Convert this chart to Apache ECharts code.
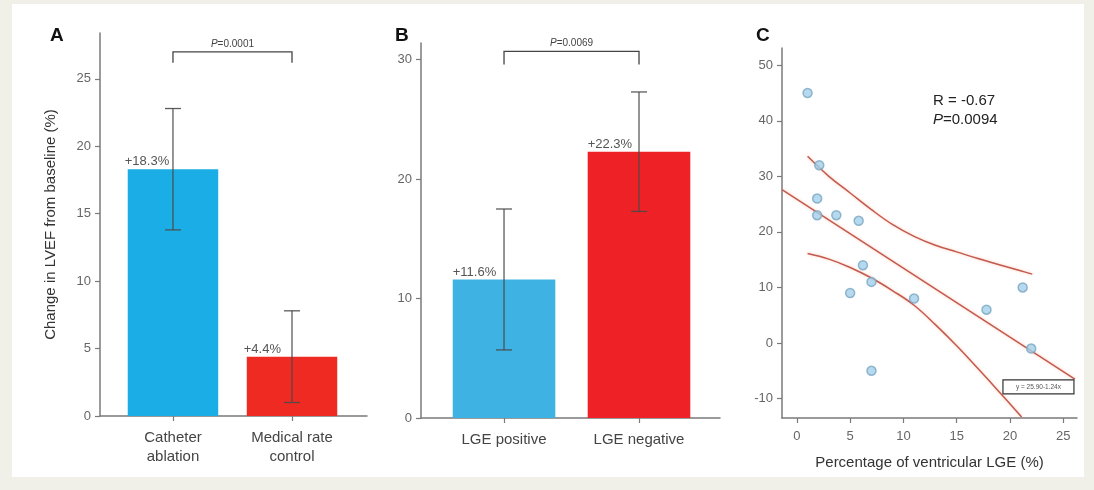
<!DOCTYPE html>
<html>
<head>
<meta charset="utf-8">
<title>LVEF change and ventricular LGE</title>
<script src="https://cdn.jsdelivr.net/npm/echarts@6/dist/echarts.min.js"></script>
<style>
  html, body { margin: 0; padding: 0; background: #f1f0e8; }
  #frame { position: absolute; left: 12px; top: 4px; width: 1072px; height: 473px; background: #ffffff; }
  #chart { position: absolute; left: 0; top: 0; width: 1094px; height: 490px; }
</style>
</head>
<body>
<div id="frame"></div>
<div id="chart"></div>
<script>
// Panel A: catheter ablation vs medical rate control
const categoriesA = ['Catheter\nablation', 'Medical rate\ncontrol'];
const meansA = [18.3, 4.4];
const errorsA = [4.5, 3.4];
const pValueA = '0.0001';

// Panel B: LGE positive vs LGE negative
const categoriesB = ['LGE positive', 'LGE negative'];
const meansB = [11.6, 22.3];
const errorsB = [5.9, 5.0];
const pValueB = '0.0069';

// Panel C: change in LVEF against percentage of ventricular LGE
const lgePercent = [1.0, 2.1, 1.9, 1.9, 3.7, 5.8, 6.2, 7.0, 5.0, 11.0, 17.8, 21.2, 22.0, 7.0];
const lvefChange = [45, 32, 26, 23, 23, 22, 14, 11, 9, 8, 6, 10, -1, -5];
const fitLine = [[-1.4, 27.6], [26.1, -6.5]];
const upperBand = [[1, 33.6], [3, 30.0], [5, 27.0], [7, 24.0], [9, 21.3], [11, 19.2], [13, 17.6], [15, 16.4], [17, 15.2], [19, 14.1], [21, 13.0], [22.1, 12.4]];
const lowerBand = [[1, 16.1], [3, 15.1], [5, 13.6], [7, 11.7], [9, 9.4], [11, 6.8], [13, 3.3], [15, -0.5], [17, -4.6], [19, -8.8], [21.1, -13.3]];
const fitEquation = 'y = 25.90-1.24x';
const rValue = '-0.67';
const pValueC = '0.0094';

const ticksA = [0, 5, 10, 15, 20, 25];
const ticksB = [0, 10, 20, 30];
const ticksCy = [-10, 0, 10, 20, 30, 40, 50];
const ticksCx = [0, 5, 10, 15, 20, 25];

const FONT = "'Liberation Sans', Arial, Helvetica, sans-serif";
const AXIS_COLOR = '#7a7a7a';
const ERR_COLOR = '#4a4a4a';
const BAR_WIDTH = 0.76;   // in category units
const CAP_HALF = 8;       // px

const barColorsA = ['#1badE5', '#ee2a22'];
const barColorsB = ['#3fb2e4', '#ee2226'];
const fitColor = '#c25a4f';

function catAxis(gridIndex, min, max, names) {
  return {
    type: 'value', gridIndex, min, max,
    axisLine: { show: true, lineStyle: { color: AXIS_COLOR, width: 1.5 } },
    axisTick: { show: true, customValues: [1, 2], length: 5, lineStyle: { color: AXIS_COLOR, width: 1.2 } },
    axisLabel: {
      customValues: [1, 2], margin: 12, color: '#444', fontFamily: FONT, fontSize: 15, lineHeight: 19,
      formatter: v => names[Math.round(v) - 1]
    },
    splitLine: { show: false }
  };
}

function valAxis(gridIndex, min, max, ticks, extra) {
  return Object.assign({
    type: 'value', gridIndex, min, max,
    axisLine: { show: true, onZero: false, lineStyle: { color: AXIS_COLOR, width: 1.5 } },
    axisTick: { show: true, customValues: ticks, length: 5, lineStyle: { color: AXIS_COLOR, width: 1.2 } },
    axisLabel: { customValues: ticks, margin: 9, color: '#666', fontFamily: FONT, fontSize: 13 },
    splitLine: { show: false }
  }, extra || {});
}

// Bars with symmetric error bars and a value label at the top-left of each bar
function barRenderer(colors, labelDx) {
  return function (params, api) {
    const x = api.value(0), v = api.value(1), e = api.value(2);
    const tl = api.coord([x - BAR_WIDTH / 2, v]);
    const br = api.coord([x + BAR_WIDTH / 2, 0]);
    const hi = api.coord([x, v + e]);
    const lo = api.coord([x, v - e]);
    const errStyle = { stroke: ERR_COLOR, lineWidth: 1.3, opacity: 0.9 };
    return {
      type: 'group',
      children: [
        { type: 'rect', shape: { x: tl[0], y: tl[1], width: br[0] - tl[0], height: br[1] - tl[1] },
          style: { fill: colors[params.dataIndex] } },
        { type: 'line', shape: { x1: hi[0], y1: hi[1], x2: lo[0], y2: lo[1] }, style: errStyle },
        { type: 'line', shape: { x1: hi[0] - CAP_HALF, y1: hi[1], x2: hi[0] + CAP_HALF, y2: hi[1] }, style: errStyle },
        { type: 'line', shape: { x1: lo[0] - CAP_HALF, y1: lo[1], x2: lo[0] + CAP_HALF, y2: lo[1] }, style: errStyle },
        { type: 'text', x: tl[0] + labelDx, y: tl[1] - 1,
          style: { text: '+' + v.toFixed(1) + '%', fill: '#555', font: '13px ' + FONT, align: 'left', verticalAlign: 'bottom' } }
      ]
    };
  };
}

// Significance bracket between the two groups
function bracketRenderer(pText) {
  return function (params, api) {
    const x1 = api.value(0), x2 = api.value(1), y = api.value(2), drop = api.value(3);
    const a = api.coord([x1, y - drop]), b = api.coord([x1, y]);
    const c = api.coord([x2, y]), d = api.coord([x2, y - drop]);
    return {
      type: 'group',
      children: [
        { type: 'polyline', shape: { points: [a, b, c, d] }, style: { stroke: '#444', lineWidth: 1.3, fill: null } },
        { type: 'text', x: (b[0] + c[0]) / 2, y: b[1] - 3,
          style: { text: '{i|P}=' + pText, fill: '#444', font: '10px ' + FONT, align: 'center', verticalAlign: 'bottom',
                   rich: { i: { fontStyle: 'italic', fontSize: 10, fontFamily: FONT, fill: '#444' } } } }
      ]
    };
  };
}

function equationRenderer(params, api) {
  const p = api.coord([api.value(0), api.value(1)]);
  const w = 71, h = 14;
  return {
    type: 'group',
    children: [
      { type: 'rect', shape: { x: p[0] - w / 2, y: p[1] - h / 2, width: w, height: h },
        style: { fill: '#fff', stroke: '#333', lineWidth: 1.2 } },
      { type: 'text', x: p[0], y: p[1],
        style: { text: fitEquation, fill: '#555', font: '6.5px ' + FONT, align: 'center', verticalAlign: 'middle' } }
    ]
  };
}

const barDataA = meansA.map((m, i) => [i + 1, m, errorsA[i]]);
const barDataB = meansB.map((m, i) => [i + 1, m, errorsB[i]]);
const scatterData = lgePercent.map((x, i) => [x, lvefChange[i]]);

const chart = echarts.init(document.getElementById('chart'), null, { renderer: 'canvas' });

chart.setOption({
  backgroundColor: 'transparent',
  animation: false,
  textStyle: { fontFamily: FONT },
  grid: [
    { left: 100, top: 33, width: 267, height: 383 },
    { left: 421, top: 43, width: 299, height: 375 },
    { left: 782, top: 48, width: 295, height: 370 }
  ],
  xAxis: [
    catAxis(0, 0.387, 2.63, categoriesA),
    catAxis(1, 0.385, 2.6, categoriesB),
    valAxis(2, -1.4, 26.3, ticksCx, {
      name: 'Percentage of ventricular LGE (%)', nameLocation: 'middle', nameGap: 37,
      nameTextStyle: { color: '#333', fontFamily: FONT, fontSize: 15 },
      axisLabel: { customValues: ticksCx, margin: 12, color: '#666', fontFamily: FONT, fontSize: 13 }
    })
  ],
  yAxis: [
    valAxis(0, 0, 28.4, ticksA, {
      name: 'Change in LVEF from baseline (%)', nameLocation: 'middle', nameGap: 42, nameRotate: 90,
      nameTextStyle: { color: '#333', fontFamily: FONT, fontSize: 15 }
    }),
    valAxis(1, 0, 31.4, ticksB),
    valAxis(2, -13.5, 53.1, ticksCy)
  ],
  graphic: [
    { type: 'text', left: 50, top: 26, style: { text: 'A', font: 'bold 19px ' + FONT, fill: '#111' } },
    { type: 'text', left: 395, top: 26, style: { text: 'B', font: 'bold 19px ' + FONT, fill: '#111' } },
    { type: 'text', left: 756, top: 26, style: { text: 'C', font: 'bold 19px ' + FONT, fill: '#111' } },
    { type: 'text', left: 933, top: 91,
      style: { text: 'R = ' + rValue + '\n{i|P}=' + pValueC, font: '15px ' + FONT, fill: '#222', lineHeight: 19,
               rich: { i: { fontStyle: 'italic', fontSize: 15, fontFamily: FONT, fill: '#222' } } } }
  ],
  series: [
    { type: 'custom', xAxisIndex: 0, yAxisIndex: 0, data: barDataA, encode: { x: 0, y: 1 },
      renderItem: barRenderer(barColorsA, -3), clip: false, z: 2 },
    { type: 'custom', xAxisIndex: 0, yAxisIndex: 0, data: [[1, 2, 27.0, 0.8]], encode: { x: [0, 1], y: 2 },
      renderItem: bracketRenderer(pValueA), clip: false, z: 3 },
    { type: 'custom', xAxisIndex: 1, yAxisIndex: 1, data: barDataB, encode: { x: 0, y: 1 },
      renderItem: barRenderer(barColorsB, 0), clip: false, z: 2 },
    { type: 'custom', xAxisIndex: 1, yAxisIndex: 1, data: [[1, 2, 30.7, 1.1]], encode: { x: [0, 1], y: 2 },
      renderItem: bracketRenderer(pValueB), clip: false, z: 3 },
    { type: 'line', xAxisIndex: 2, yAxisIndex: 2, data: fitLine, showSymbol: false, z: 3,
      lineStyle: { color: fitColor, width: 1.5, shadowColor: 'rgba(255,150,110,0.5)', shadowBlur: 3 } },
    { type: 'line', xAxisIndex: 2, yAxisIndex: 2, data: upperBand, smooth: 0.4, showSymbol: false, z: 3,
      lineStyle: { color: fitColor, width: 1.5, shadowColor: 'rgba(255,150,110,0.5)', shadowBlur: 3 } },
    { type: 'line', xAxisIndex: 2, yAxisIndex: 2, data: lowerBand, smooth: 0.4, showSymbol: false, z: 3,
      lineStyle: { color: fitColor, width: 1.5, shadowColor: 'rgba(255,150,110,0.5)', shadowBlur: 3 } },
    { type: 'scatter', xAxisIndex: 2, yAxisIndex: 2, data: scatterData, symbol: 'circle', symbolSize: 9, z: 4,
      itemStyle: { color: '#a3d0ea', borderColor: '#7aa6c2', borderWidth: 1.5 } },
    { type: 'custom', xAxisIndex: 2, yAxisIndex: 2, data: [[22.68, -7.9]], encode: { x: 0, y: 1 },
      renderItem: equationRenderer, clip: false, z: 5 }
  ]
});
</script>
</body>
</html>
